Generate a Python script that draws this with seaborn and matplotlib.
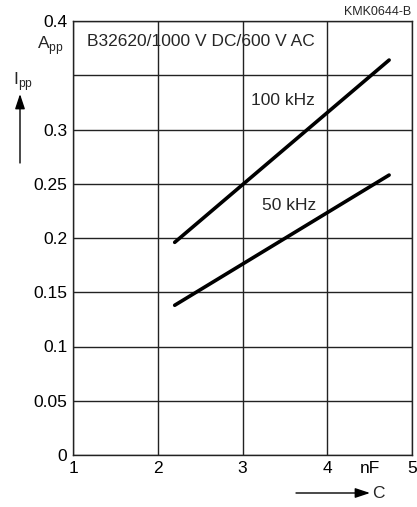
import matplotlib
matplotlib.use("Agg")
import matplotlib.pyplot as plt
import seaborn as sns
import pandas as pd

# Kurven aus dem Datenblatt (C in nF, Ipp in A)
c_nf = [2.2, 4.73]
ipp_100khz = [0.196, 0.364]
ipp_50khz = [0.138, 0.258]

x_ticks = [1, 2, 3, 4, 5]
y_ticks = [0, 0.05, 0.1, 0.15, 0.2, 0.25, 0.3, 0.35, 0.4]
y_labels = ["0", "0.05", "0.1", "0.15", "0.2", "0.25", "0.3", "", "0.4"]

df = pd.DataFrame({
    "C": c_nf * 2,
    "Ipp": ipp_100khz + ipp_50khz,
    "f": ["100 kHz"] * 2 + ["50 kHz"] * 2,
})

sns.set_style("white")
plt.rcParams["font.family"] = ["Liberation Sans", "DejaVu Sans"]

fig = plt.figure(figsize=(4.17, 5.07), dpi=100)
ax = fig.add_axes([73 / 417, 52 / 507, 339 / 417, 434 / 507])

sns.lineplot(data=df, x="C", y="Ipp", units="f", estimator=None,
             color="black", linewidth=2.6, ax=ax, legend=False)

ax.set_xlim(1, 5)
ax.set_ylim(0, 0.4)
ax.set_xticks(x_ticks)
ax.set_xticklabels(["1", "2", "3", "4", "5"])
ax.set_xticks([4.5], minor=True)
ax.set_xticklabels(["nF"], minor=True)
ax.set_yticks(y_ticks)
ax.set_yticklabels(y_labels)
ax.tick_params(which="both", length=0, labelsize=12.5, colors="black", pad=4)
ax.grid(True, which="major", color="#222222", linewidth=1.0)
for s in ax.spines.values():
    s.set_color("#222222")
    s.set_linewidth(1.0)
ax.set_xlabel("")
ax.set_ylabel("")

ax.text(1.165, 0.381, "B32620/1000 V DC/600 V AC", fontsize=12.5, va="center")
ax.text(3.48, 0.327, "100 kHz", fontsize=12.5, ha="center", va="center")
ax.text(3.55, 0.230, "50 kHz", fontsize=12.5, ha="center", va="center")

fig.text(411 / 417, 1 - 12 / 507, "KMK0644-B", fontsize=9, ha="right", va="center")
fig.text(64 / 417, 1 - 46 / 507, "A$_{\\mathregular{pp}}$", fontsize=12.5,
         ha="right", va="center")
fig.text(13 / 417, 1 - 82 / 507, "I$_{\\mathregular{pp}}$", fontsize=12.5,
         ha="left", va="center")
fig.text(372 / 417, 1 - 493 / 507, "C", fontsize=12.5, ha="left", va="center")

fig.patches.append(matplotlib.patches.FancyArrowPatch(
    (20 / 417, 1 - 163 / 507), (20 / 417, 1 - 94 / 507), transform=fig.transFigure,
    arrowstyle="-|>,head_length=9,head_width=3", color="black", linewidth=1.0,
    shrinkA=0, shrinkB=0))
fig.patches.append(matplotlib.patches.FancyArrowPatch(
    (296 / 417, 1 - 493 / 507), (370 / 417, 1 - 493 / 507), transform=fig.transFigure,
    arrowstyle="-|>,head_length=9,head_width=3", color="black", linewidth=1.0,
    shrinkA=0, shrinkB=0))

fig.savefig("out.png", dpi=100)
